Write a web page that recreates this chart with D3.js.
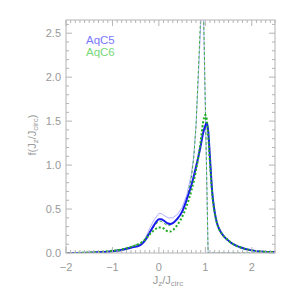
<!DOCTYPE html>
<html><head><meta charset="utf-8">
<script src="https://cdn.jsdelivr.net/npm/d3@7"></script>
<style>body{margin:0;background:#fff}svg{display:block}</style>
</head><body><div id="c"></div>
<script>
// Data
const seriesNames = ["AqC5", "AqC6"];
const xThick = [-2, -1.5, -1.2, -1.0, -0.8, -0.6, -0.4, -0.3, -0.2, -0.1, -0.05, 0.0, 0.05, 0.1, 0.15, 0.2, 0.25, 0.3, 0.4, 0.5, 0.6, 0.7, 0.8, 0.9, 0.95, 1.0, 1.03, 1.06, 1.1, 1.15, 1.2, 1.25, 1.3, 1.4, 1.5, 1.6, 1.75, 2.0, 2.25, 2.5];
const aqc5Thick = [0.0, 0.003, 0.01, 0.02, 0.035, 0.06, 0.09, 0.14, 0.23, 0.32, 0.36, 0.385, 0.385, 0.37, 0.35, 0.335, 0.33, 0.34, 0.39, 0.47, 0.61, 0.77, 0.98, 1.22, 1.36, 1.45, 1.48, 1.40, 1.08, 0.68, 0.47, 0.34, 0.27, 0.19, 0.14, 0.10, 0.065, 0.03, 0.015, 0.01];
const aqc6Thick = [0.0, 0.005, 0.015, 0.025, 0.04, 0.07, 0.11, 0.15, 0.21, 0.26, 0.28, 0.29, 0.29, 0.28, 0.26, 0.245, 0.245, 0.26, 0.32, 0.41, 0.54, 0.71, 0.94, 1.27, 1.48, 1.57, 1.52, 1.35, 1.02, 0.66, 0.46, 0.34, 0.27, 0.19, 0.14, 0.10, 0.065, 0.03, 0.015, 0.01];
const xThin = [-2, -1.5, -1.2, -1.0, -0.8, -0.6, -0.4, -0.3, -0.2, -0.1, 0.0, 0.05, 0.1, 0.2, 0.3, 0.4, 0.5, 0.6, 0.7, 0.75, 0.8, 0.85, 0.9, 0.95, 1.06, 1.5, 2.0, 2.5];
const aqc5Thin = [0.0, 0.004, 0.012, 0.022, 0.038, 0.065, 0.1, 0.16, 0.28, 0.38, 0.45, 0.45, 0.43, 0.40, 0.40, 0.44, 0.52, 0.66, 0.9, 1.1, 1.45, 2.0, 2.6, 3.0, 0.0, 0.0, 0.0, 0.0];
const aqc6Thin = [0.0, 0.005, 0.015, 0.026, 0.042, 0.072, 0.115, 0.16, 0.24, 0.31, 0.36, 0.36, 0.34, 0.31, 0.33, 0.38, 0.46, 0.6, 0.86, 1.08, 1.45, 2.08, 2.7, 3.1, 0.0, 0.0, 0.0, 0.0];
const xTicks = [-2, -1, 0, 1, 2];
const yTicks = [0.0, 0.5, 1.0, 1.5, 2.0, 2.5];

const W = 295, H = 295;
const m = {l: 66, r: 20, t: 20, b: 42};
const svg = d3.select("#c").append("svg").attr("width", W).attr("height", H)
  .style("font-family", "Liberation Sans, Arial, sans-serif");
const x = d3.scaleLinear().domain([-2, 2.5]).range([m.l, W - m.r]);
const y = d3.scaleLinear().domain([0, 2.65]).range([H - m.b, m.t]);

const axCol = "#b4b4b4", txtCol = "#999999";
const defs = svg.append("defs");
defs.append("clipPath").attr("id", "clip").append("rect")
  .attr("x", m.l).attr("y", m.t).attr("width", W - m.l - m.r).attr("height", H - m.t - m.b);

const g = svg.append("g").attr("clip-path", "url(#clip)");
function drawLine(xs, ys, color, width, dash, curve) {
  const line = d3.line().x((d, i) => x(xs[i])).y(d => y(d)).curve(curve || d3.curveLinear);
  g.append("path").datum(ys).attr("d", line).attr("fill", "none")
    .attr("stroke", color).attr("stroke-width", width)
    .attr("stroke-dasharray", dash || null);
}
drawLine(xThin, aqc5Thin, "#b0b0ff", 1);
drawLine(xThin, aqc6Thin, "#40b040", 1, "3,2");
drawLine(xThick, aqc5Thick, "#1a1aee", 2, null, d3.curveMonotoneX);
drawLine(xThick, aqc6Thick, "#1faa1f", 2, "2,2", d3.curveMonotoneX);

// axes (box with ticks on all sides)
const x0 = m.l, x1 = W - m.r, y0 = H - m.b, y1 = m.t;
svg.append("rect").attr("x", x0).attr("y", y1).attr("width", x1 - x0).attr("height", y0 - y1)
  .attr("fill", "none").attr("stroke", axCol).attr("stroke-width", 1);
const ax = svg.append("g").attr("stroke", axCol).attr("stroke-width", 1);
const xMinor = d3.range(-20, 26).map(v => v / 10);
xMinor.forEach(v => {
  const major = Math.abs(v - Math.round(v)) < 1e-6;
  const L = major ? 6 : 3;
  ax.append("line").attr("x1", x(v)).attr("x2", x(v)).attr("y1", y0).attr("y2", y0 - L);
  ax.append("line").attr("x1", x(v)).attr("x2", x(v)).attr("y1", y1).attr("y2", y1 + L);
});
const yMinor = d3.range(0, 27).map(v => v / 10);
yMinor.forEach(v => {
  const major = Math.abs(v * 2 - Math.round(v * 2)) < 1e-6;
  const L = major ? 6 : 3;
  ax.append("line").attr("y1", y(v)).attr("y2", y(v)).attr("x1", x0).attr("x2", x0 + L);
  ax.append("line").attr("y1", y(v)).attr("y2", y(v)).attr("x1", x1).attr("x2", x1 - L);
});
svg.selectAll(".xt").data(xTicks).enter().append("text")
  .attr("x", d => x(d)).attr("y", y0 + 18).attr("text-anchor", "middle")
  .attr("font-size", 11).attr("fill", txtCol)
  .text(d => d < 0 ? "\u2212" + Math.abs(d) : d);
svg.selectAll(".yt").data(yTicks).enter().append("text")
  .attr("x", x0 - 5).attr("y", d => y(d) + 4).attr("text-anchor", "end")
  .attr("font-size", 11).attr("fill", txtCol)
  .text(d => d.toFixed(1));

// axis titles
const xt = svg.append("text").attr("x", 168).attr("y", 284).attr("text-anchor", "middle")
  .attr("font-size", 11).attr("fill", txtCol);
xt.append("tspan").text("J");
xt.append("tspan").attr("font-size", 8).attr("dy", 2).text("z");
xt.append("tspan").attr("dy", -2).text("/J");
xt.append("tspan").attr("font-size", 8).attr("dy", 2).text("circ");
const yt = svg.append("text").attr("transform", "translate(36,135) rotate(-90)")
  .attr("text-anchor", "middle").attr("font-size", 11).attr("fill", txtCol);
yt.append("tspan").text("f(J");
yt.append("tspan").attr("font-size", 8).attr("dy", 2).text("z");
yt.append("tspan").attr("dy", -2).text("/J");
yt.append("tspan").attr("font-size", 8).attr("dy", 2).text("circ");
yt.append("tspan").attr("dy", -2).text(")");

// legend
const legCols = ["#7878ff", "#78d878"];
seriesNames.forEach((s, i) => {
  svg.append("text").attr("x", 86).attr("y", 44 + i * 11.5).attr("font-size", 11.5)
    .attr("fill", legCols[i]).text(s);
});
</script></body></html>
